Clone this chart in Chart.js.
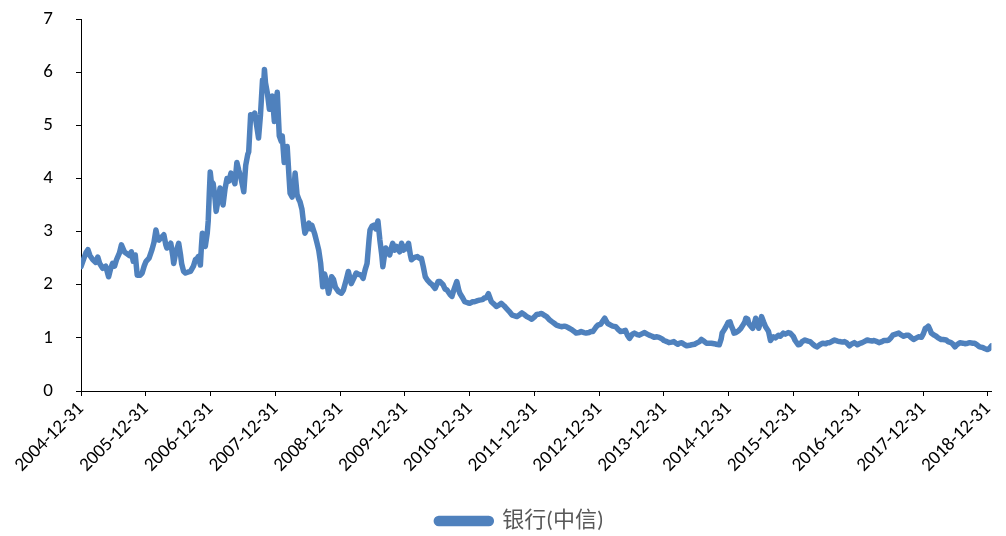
<!DOCTYPE html>
<html>
<head>
<meta charset="utf-8">
<script src="https://cdn.jsdelivr.net/npm/chart.js@4.4.1/dist/chart.umd.min.js"></script>
<style>
  html, body { margin: 0; padding: 0; background: #ffffff; }
  #wrap { width: 1006px; height: 536px; }
</style>
</head>
<body>
<div id="wrap"><canvas id="c" width="1006" height="536"></canvas></div>
<script>
// Series name
const seriesName = '银行(中信)';

// Time positions as decimal years (2005.000 = 2004-12-31)
const years = [
  2005.000,2005.046,2005.076,2005.107,2005.137,2005.183,2005.228,2005.259,2005.289,2005.335,
  2005.381,2005.426,2005.457,2005.487,2005.518,2005.548,2005.594,2005.624,2005.670,2005.700,
  2005.746,2005.777,2005.807,2005.838,2005.868,2005.914,2005.944,2005.975,2006.005,2006.051,
  2006.096,2006.127,2006.157,2006.188,2006.203,2006.249,2006.279,2006.310,2006.325,2006.355,
  2006.386,2006.416,2006.431,2006.462,2006.508,2006.538,2006.553,2006.584,2006.614,2006.660,
  2006.690,2006.736,2006.766,2006.797,2006.812,2006.843,2006.858,2006.873,2006.904,2006.919,
  2006.949,2006.964,2006.980,2006.995,2007.010,2007.041,2007.071,2007.086,2007.117,2007.147,
  2007.178,2007.193,2007.223,2007.254,2007.284,2007.315,2007.345,2007.376,2007.406,2007.436,
  2007.467,2007.497,2007.513,2007.543,2007.574,2007.589,2007.619,2007.650,2007.680,2007.711,
  2007.741,2007.771,2007.802,2007.817,2007.832,2007.848,2007.878,2007.909,2007.939,2007.954,
  2007.985,2008.015,2008.030,2008.061,2008.091,2008.107,2008.137,2008.167,2008.183,2008.213,
  2008.228,2008.259,2008.289,2008.305,2008.335,2008.365,2008.381,2008.411,2008.442,2008.457,
  2008.487,2008.518,2008.548,2008.563,2008.609,2008.640,2008.670,2008.700,2008.731,2008.761,
  2008.792,2008.822,2008.853,2008.868,2008.898,2008.929,2008.975,2009.020,2009.051,2009.096,
  2009.127,2009.172,2009.203,2009.249,2009.279,2009.325,2009.355,2009.386,2009.416,2009.447,
  2009.462,2009.492,2009.523,2009.553,2009.584,2009.614,2009.644,2009.660,2009.690,2009.705,
  2009.736,2009.766,2009.797,2009.812,2009.843,2009.873,2009.888,2009.919,2009.949,2009.980,
  2009.995,2010.025,2010.056,2010.086,2010.101,2010.132,2010.162,2010.193,2010.223,2010.254,
  2010.284,2010.315,2010.345,2010.391,2010.421,2010.467,2010.513,2010.543,2010.589,2010.619,
  2010.650,2010.695,2010.726,2010.756,2010.802,2010.832,2010.848,2010.893,2010.924,2010.969,
  2011.000,2011.046,2011.076,2011.122,2011.152,2011.198,2011.228,2011.259,2011.289,2011.335,
  2011.381,2011.411,2011.457,2011.487,2011.533,2011.563,2011.609,2011.655,2011.685,2011.731,
  2011.776,2011.807,2011.853,2011.883,2011.929,2011.959,2012.005,2012.035,2012.081,2012.111,
  2012.157,2012.188,2012.233,2012.264,2012.309,2012.340,2012.386,2012.416,2012.462,2012.492,
  2012.538,2012.568,2012.614,2012.644,2012.690,2012.721,2012.766,2012.797,2012.842,2012.873,
  2012.903,2012.949,2012.979,2013.025,2013.056,2013.086,2013.116,2013.132,2013.177,2013.208,
  2013.254,2013.299,2013.330,2013.375,2013.406,2013.436,2013.467,2013.512,2013.543,2013.589,
  2013.619,2013.665,2013.695,2013.741,2013.771,2013.817,2013.848,2013.893,2013.924,2013.969,
  2014.000,2014.045,2014.076,2014.122,2014.152,2014.183,2014.213,2014.243,2014.274,2014.320,
  2014.350,2014.396,2014.426,2014.472,2014.502,2014.548,2014.578,2014.624,2014.655,2014.700,
  2014.731,2014.776,2014.807,2014.853,2014.883,2014.898,2014.929,2014.944,2014.974,2014.990,
  2015.020,2015.035,2015.066,2015.081,2015.111,2015.157,2015.187,2015.218,2015.248,2015.264,
  2015.294,2015.309,2015.340,2015.370,2015.401,2015.416,2015.446,2015.462,2015.492,2015.507,
  2015.538,2015.568,2015.599,2015.614,2015.644,2015.660,2015.690,2015.720,2015.766,2015.797,
  2015.842,2015.873,2015.918,2015.949,2015.995,2016.025,2016.071,2016.101,2016.132,2016.177,
  2016.223,2016.254,2016.299,2016.330,2016.360,2016.406,2016.451,2016.497,2016.528,2016.558,
  2016.604,2016.634,2016.680,2016.710,2016.756,2016.787,2016.817,2016.863,2016.893,2016.939,
  2016.984,2017.015,2017.060,2017.091,2017.137,2017.167,2017.213,2017.243,2017.289,2017.319,
  2017.365,2017.396,2017.441,2017.472,2017.502,2017.533,2017.578,2017.624,2017.654,2017.700,
  2017.746,2017.776,2017.822,2017.852,2017.898,2017.928,2017.974,2018.005,2018.035,2018.065,
  2018.081,2018.111,2018.126,2018.172,2018.202,2018.233,2018.279,2018.309,2018.355,2018.385,
  2018.431,2018.461,2018.492,2018.522,2018.568,2018.613,2018.644,2018.690,2018.720,2018.766,
  2018.796,2018.842,2018.872,2018.918,2018.948,2018.994,2019.025,2019.055
];

// Index values
const values = [
  2.34,2.50,2.60,2.66,2.55,2.47,2.42,2.52,2.40,2.31,
  2.35,2.15,2.30,2.40,2.35,2.47,2.60,2.75,2.62,2.59,
  2.55,2.62,2.44,2.56,2.18,2.18,2.22,2.35,2.44,2.50,
  2.66,2.80,3.03,2.85,2.84,2.90,2.94,2.75,2.69,2.72,
  2.78,2.55,2.40,2.60,2.78,2.55,2.40,2.25,2.22,2.24,
  2.25,2.35,2.47,2.50,2.53,2.37,2.70,2.97,2.80,2.72,
  2.97,3.20,3.70,4.12,3.95,3.90,3.60,3.38,3.60,3.82,
  3.65,3.50,3.80,4.00,3.95,4.10,4.00,3.90,4.30,4.15,
  4.02,3.85,3.75,4.25,4.45,4.50,5.20,5.15,5.23,5.00,
  4.76,5.20,5.85,5.70,6.05,5.80,5.60,5.30,5.50,5.55,
  5.07,5.45,5.62,4.80,4.70,4.80,4.30,4.50,4.60,4.00,
  3.72,3.65,3.80,4.10,3.70,3.60,3.56,3.42,3.10,2.97,
  3.05,3.16,3.05,3.12,2.95,2.80,2.65,2.40,1.96,2.20,
  2.05,1.84,2.00,2.15,2.10,1.95,1.87,1.84,1.90,2.10,
  2.25,2.02,2.10,2.22,2.20,2.18,2.12,2.28,2.40,2.85,
  3.03,3.10,3.12,3.05,3.20,2.84,2.55,2.34,2.60,2.69,
  2.62,2.56,2.72,2.78,2.65,2.72,2.69,2.62,2.78,2.65,
  2.72,2.68,2.78,2.55,2.47,2.50,2.52,2.53,2.50,2.50,
  2.34,2.15,2.09,2.03,2.00,1.93,2.06,2.06,2.00,1.92,
  1.90,1.82,1.78,1.90,2.06,1.90,1.84,1.75,1.68,1.66,
  1.65,1.68,1.68,1.70,1.71,1.72,1.75,1.76,1.83,1.68,
  1.63,1.59,1.62,1.65,1.60,1.56,1.50,1.43,1.42,1.40,
  1.44,1.47,1.43,1.40,1.37,1.35,1.40,1.44,1.45,1.46,
  1.42,1.40,1.34,1.31,1.27,1.24,1.22,1.21,1.22,1.21,
  1.18,1.16,1.12,1.09,1.10,1.12,1.10,1.09,1.10,1.12,
  1.12,1.20,1.24,1.26,1.32,1.37,1.30,1.27,1.24,1.22,
  1.21,1.15,1.12,1.13,1.14,1.05,0.99,1.07,1.09,1.06,
  1.05,1.08,1.10,1.07,1.05,1.03,1.01,1.02,1.01,0.98,
  0.95,0.93,0.91,0.92,0.93,0.90,0.88,0.90,0.91,0.87,
  0.85,0.86,0.87,0.88,0.90,0.93,0.97,0.93,0.90,0.90,
  0.90,0.89,0.88,0.87,0.98,1.09,1.15,1.18,1.25,1.29,
  1.30,1.24,1.15,1.09,1.10,1.14,1.18,1.24,1.30,1.37,
  1.35,1.27,1.22,1.18,1.30,1.37,1.25,1.18,1.30,1.40,
  1.30,1.21,1.15,1.12,0.95,0.98,1.02,1.00,1.05,1.03,
  1.09,1.07,1.10,1.09,1.03,0.95,0.87,0.88,0.93,0.96,
  0.94,0.93,0.88,0.85,0.83,0.87,0.90,0.89,0.91,0.91,
  0.94,0.96,0.94,0.93,0.92,0.93,0.91,0.85,0.88,0.91,
  0.87,0.89,0.91,0.93,0.96,0.95,0.94,0.95,0.93,0.91,
  0.93,0.95,0.95,0.96,1.00,1.05,1.07,1.09,1.06,1.03,
  1.05,1.05,1.00,0.97,1.00,1.02,1.01,1.08,1.18,1.20,
  1.22,1.14,1.09,1.05,1.03,1.00,0.97,0.97,0.96,0.93,
  0.91,0.88,0.83,0.87,0.91,0.90,0.89,0.90,0.91,0.90,
  0.90,0.86,0.83,0.82,0.80,0.78,0.80,0.85
];

// Year-end tick positions and their labels
const tickYears = [2005,2006,2007,2008,2009,2010,2011,2012,2013,2014,2015,2016,2017,2018,2019];
const tickLabels = [
  '2004-12-31','2005-12-31','2006-12-31','2007-12-31','2008-12-31',
  '2009-12-31','2010-12-31','2011-12-31','2012-12-31','2013-12-31',
  '2014-12-31','2015-12-31','2016-12-31','2017-12-31','2018-12-31'
];

const lineColor = '#4F81BD';
const fontFamily = "Carlito, Lato, 'Noto Sans CJK SC', 'Open Sans', sans-serif";

const points = years.map((x, i) => ({ x: x, y: values[i] }));

// Nudges the legend block so it sits under the plot like the original layout
const legendOffset = {
  id: 'legendOffset',
  afterLayout(chart) {
    const lg = chart.legend;
    if (!lg) return;
    const dx = 18, dy = 6;
    lg.left += dx; lg.right += dx;
    lg.top += dy; lg.bottom += dy;
    (lg.legendHitBoxes || []).forEach(b => { b.left += dx; b.top += dy; });
  }
};

new Chart(document.getElementById('c'), {
  type: 'line',
  data: {
    datasets: [{
      label: seriesName,
      data: points,
      borderColor: lineColor,
      backgroundColor: lineColor,
      borderWidth: 5.5,
      borderJoinStyle: 'round',
      borderCapStyle: 'round',
      pointRadius: 0,
      tension: 0
    }]
  },
  options: {
    responsive: false,
    animation: false,
    devicePixelRatio: 1,
    layout: { padding: { left: 0, right: 2, top: 19, bottom: 0 } },
    plugins: {
      tooltip: { enabled: false },
      legend: {
        position: 'bottom',
        labels: {
          boxWidth: 55,
          boxHeight: 5,
          useBorderRadius: true,
          borderRadius: 2.5,
          padding: 4,
          color: '#595959',
          font: { family: fontFamily, size: 22 }
        }
      }
    },
    scales: {
      x: {
        type: 'linear',
        min: years[0],
        max: years[years.length - 1],
        afterBuildTicks: (scale) => {
          scale.ticks = tickYears.map(v => ({ value: v }));
        },
        afterFit: (scale) => { scale.height = 109; },
        grid: { drawOnChartArea: false, drawTicks: true, tickLength: 5, color: '#000000', lineWidth: 1 },
        border: { display: true, color: '#000000', width: 1 },
        ticks: {
          autoSkip: false,
          maxRotation: 45,
          minRotation: 45,
          padding: 2,
          color: '#000000',
          font: { family: fontFamily, size: 19 },
          callback: (value) => {
            const i = tickYears.indexOf(Math.round(value));
            return i >= 0 ? tickLabels[i] : '';
          }
        }
      },
      y: {
        min: 0,
        max: 7,
        afterFit: (scale) => {
          scale.width = 81;
          scale.paddingTop = 0;
          scale.paddingBottom = 0;
        },
        grid: { drawOnChartArea: false, drawTicks: true, tickLength: 5, color: '#000000', lineWidth: 1 },
        border: { display: true, color: '#000000', width: 1 },
        ticks: {
          stepSize: 1,
          padding: 23,
          color: '#000000',
          font: { family: fontFamily, size: 19 }
        }
      }
    }
  },
  plugins: [legendOffset]
});
</script>
</body>
</html>
